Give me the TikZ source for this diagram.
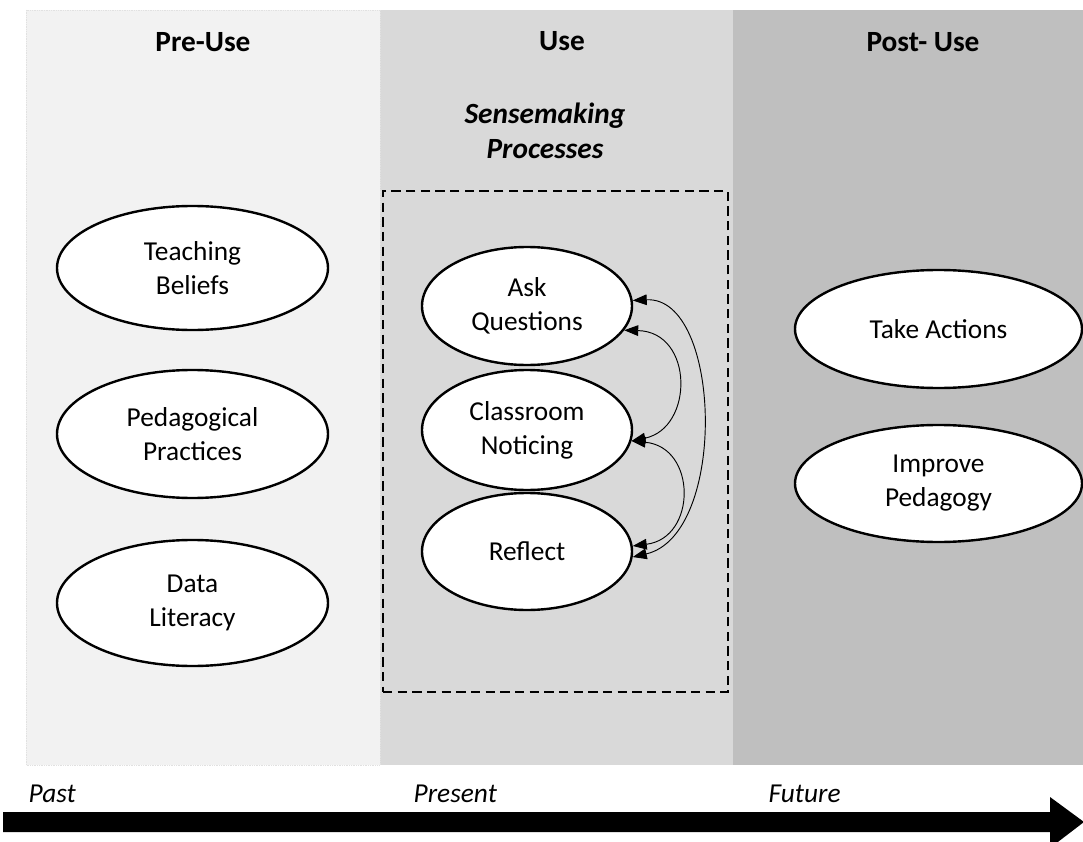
\documentclass[tikz,border=0pt]{standalone}
\usepackage{fontspec}
\setmainfont{Carlito}
\usetikzlibrary{arrows.meta,shapes.geometric}
\begin{document}
\begin{tikzpicture}[x=0.75pt,y=-0.75pt,
  oval/.style={draw=black,line width=1.8pt,fill=white,ellipse,inner sep=0pt,align=center,
    font=\fontsize{20.5}{25.5}\selectfont},
  head/.style={font=\fontsize{22}{26}\selectfont\bfseries},
  timelbl/.style={font=\fontsize{20.5}{24}\selectfont\itshape},
  bi/.style={line width=0.7pt,{Triangle[length=10.5pt,width=8pt]}-{Triangle[length=10.5pt,width=8pt]}}]
\useasboundingbox (0,0) rectangle (1083,842);
\fill[white] (0,0) rectangle (1083,842);
% panels
\fill[fill={rgb,255:red,242;green,242;blue,242}] (26,10) rectangle (380,765);
\fill[fill={rgb,255:red,217;green,217;blue,217}] (380,10) rectangle (733,765);
\fill[fill={rgb,255:red,191;green,191;blue,191}] (733,10) rectangle (1083,765);
\draw[densely dotted,line width=0.3pt,color={rgb,255:red,225;green,225;blue,225}] (26,10) rectangle (380,765);
% headings
\node[head] (hpre) at (203,42) {Pre-Use};
\node[head] (huse) at (562,41) {Use};
\node[head] (hpost) at (923,42) {Post- Use};
\node[head,font=\fontsize{22}{26.5}\selectfont\bfseries\itshape,align=center] (sense) at (545,131) {Sensemaking\\Processes};
% dashed box
\node[draw=black,dashed,dash pattern=on 7pt off 4pt,line width=1.6pt,minimum width=345*0.75pt,minimum height=501*0.75pt,inner sep=0pt] (box) at (555.5,441.5) {};
% ellipses
\node[oval,minimum width=271*0.75pt,minimum height=124*0.75pt] (tb) at (192.5,268) {Teaching\\Beliefs};
\node[oval,minimum width=271*0.75pt,minimum height=128*0.75pt] (pp) at (192.5,434) {Pedagogical\\Practices};
\node[oval,minimum width=271*0.75pt,minimum height=126*0.75pt] (dl) at (192.5,603) {Data\\Literacy};
\node[oval,minimum width=210*0.75pt,minimum height=118*0.75pt] (ask) at (527,306) {Ask\\Questions};
\node[oval,minimum width=210*0.75pt,minimum height=120*0.75pt] (cn) at (527,430) {Classroom\\Noticing};
\node[oval,minimum width=210*0.75pt,minimum height=117*0.75pt] (rf) at (527,551.5) {Reflect};
\node[oval,minimum width=287*0.75pt,minimum height=118*0.75pt] (ta) at (938.5,329) {Take Actions};
\node[oval,minimum width=287*0.75pt,minimum height=117*0.75pt] (ip) at (938.5,483.5) {Improve\\Pedagogy};
% curved arrows
\draw[bi] (ask.3) .. controls (722,296) and (728,535) .. (rf.-3);
\draw[bi] (ask.-14) .. controls (694,332) and (694,428) .. (cn.-6);
\draw[bi] (cn.-6) .. controls (697,447) and (697,538) .. (rf.3);
% timeline
\node[timelbl,anchor=west] (past) at (24,794) {Past};
\node[timelbl,anchor=west] (present) at (409,794) {Present};
\node[timelbl,anchor=west] (future) at (764,794) {Future};
\fill[black] (3,812) -- (1050,812) -- (1050,797) -- (1084,822) -- (1050,848) -- (1050,832) -- (3,832) -- cycle;
\end{tikzpicture}
\end{document}
